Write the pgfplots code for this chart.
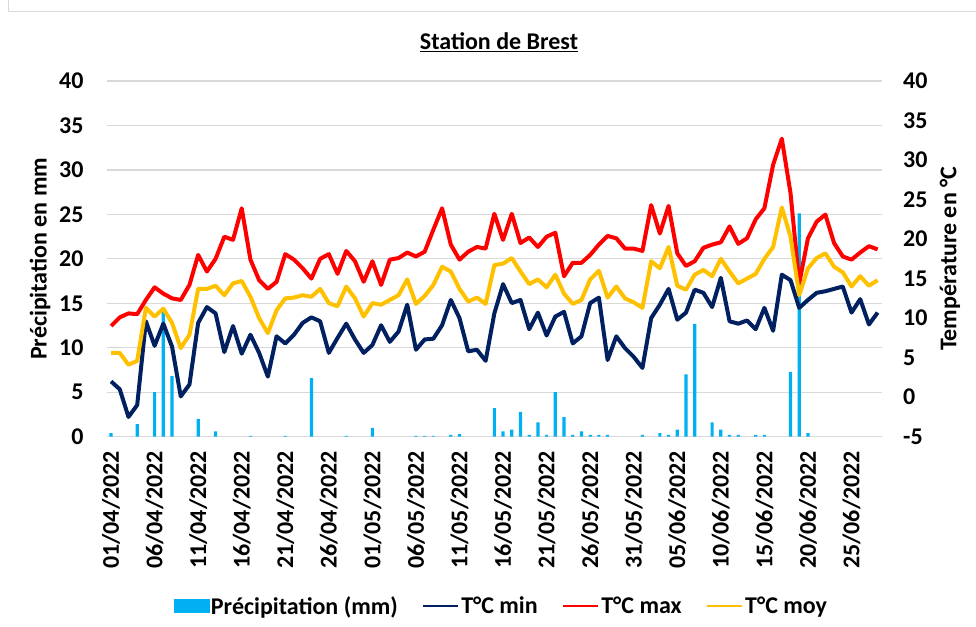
\documentclass[border=0pt]{standalone}
\usepackage{fontspec}
\setmainfont{Carlito}
\usepackage{pgfplots}
\pgfplotsset{compat=1.18}
\definecolor{precip}{HTML}{00B0F0}
\definecolor{tmin}{HTML}{002060}
\definecolor{tmax}{HTML}{FF0000}
\definecolor{tmoy}{HTML}{FFC000}
\definecolor{gridc}{HTML}{D9D9D9}
\newcommand{\F}{\fontsize{24}{28}\selectfont\bfseries}
\begin{document}
\begin{tikzpicture}
\path[use as bounding box] (0pt,0pt) rectangle (976pt,626pt);
\draw[gridc, line width=1.5pt] (8.5pt,626pt) -- (8.5pt,614.5pt) -- (976pt,614.5pt);
\node[font=\F, anchor=center] at (499pt,584pt) {\underline{Station de Brest}};
\begin{axis}[
  at={(106.7pt,189.3pt)}, anchor=south west,
  width=775.3pt, height=355.7pt, scale only axis,
  xmin=-0.5, xmax=88.5, ymin=0, ymax=40,
  ytick={0,5,10,15,20,25,30,35,40},
  xtick={0,5,10,15,20,25,30,35,40,45,50,55,60,65,70,75,80,85},
  xticklabels={01/04/2022,06/04/2022,11/04/2022,16/04/2022,21/04/2022,26/04/2022,01/05/2022,06/05/2022,11/05/2022,16/05/2022,21/05/2022,26/05/2022,31/05/2022,05/06/2022,10/06/2022,15/06/2022,20/06/2022,25/06/2022},
  /pgf/number format/assume math mode=true,
  ticklabel style={font=\F, inner sep=0pt},
  xticklabel style={rotate=90, anchor=east},
  xticklabel shift=14pt,
  yticklabel shift=23pt,
  major tick length=0pt,
  axis line style={draw=none},
  ymajorgrids, major grid style={gridc, line width=1.3pt},
  ylabel={Précipitation en mm},
  ylabel style={font=\F, at={(axis description cs:-0.086,0.5)}, anchor=center, rotate=0},
]
\addplot[ybar, bar width=3.2pt, fill=precip, draw=none] coordinates {
(0,0.4) (3,1.4) (5,5.0) (6,14.0) (7,6.8) (10,2.0) (12,0.6) (16,0.1) (20,0.1)
(23,6.6) (27,0.1) (30,1.0) (35,0.1) (36,0.1) (37,0.1) (39,0.2) (40,0.3)
(44,3.2) (45,0.6) (46,0.8) (47,2.8) (48,0.2) (49,1.6) (50,0.2) (51,5.0)
(52,2.2) (53,0.2) (54,0.6) (55,0.2) (56,0.2) (57,0.2) (61,0.2) (63,0.4)
(64,0.2) (65,0.8) (66,7.0) (67,12.7) (69,1.6) (70,0.8) (71,0.2) (72,0.2)
(74,0.2) (75,0.2) (78,7.3) (79,25.1) (80,0.4)
};
\end{axis}
\begin{axis}[
  at={(106.7pt,189.3pt)}, anchor=south west,
  width=775.3pt, height=355.7pt, scale only axis,
  xmin=-0.5, xmax=88.5, ymin=-5, ymax=40,
  ytick={-5,0,5,10,15,20,25,30,35,40},
  axis y line*=right, axis x line=none,
  /pgf/number format/assume math mode=true,
  ticklabel style={font=\F, inner sep=0pt},
  yticklabel shift=21pt,
  major tick length=0pt,
  axis line style={draw=none},
  ylabel={Température en °C},
  ylabel style={font=\F, at={(axis description cs:1.0877,0.5)}, anchor=center},
  legend style={at={(axis description cs:0.509,-0.476)}, anchor=center, draw=none, fill=none,
    legend columns=4, font=\F, inner sep=0pt,
    nodes={inner sep=2pt},
    /tikz/every even column/.append style={column sep=22pt}},
  legend cell align=left,
]
\addlegendimage{legend image code/.code={\fill[precip] (0pt,-6.5pt) rectangle (35pt,6.5pt);}}
\addlegendentry{Précipitation (mm)}
\addplot[tmin, line width=4pt, line join=round, legend image code/.code={\draw[tmin, line width=2.5pt] (0pt,0pt) -- (35pt,0pt);}] coordinates {
(0,2.0) (1,1.0) (2,-2.5) (3,-1.0) (4,9.6) (5,6.5) (6,9.3) (7,6.4) (8,0.1) (9,1.6)
(10,9.4) (11,11.4) (12,10.6) (13,5.7) (14,9.0) (15,5.5) (16,7.9) (17,5.6) (18,2.6) (19,7.7)
(20,6.8) (21,7.9) (22,9.4) (23,10.1) (24,9.6) (25,5.6) (26,7.5) (27,9.3) (28,7.3) (29,5.6)
(30,6.6) (31,9.1) (32,7.0) (33,8.3) (34,11.7) (35,6.0) (36,7.3) (37,7.4) (38,9.1) (39,12.3)
(40,10.0) (41,5.8) (42,6.0) (43,4.6) (44,10.6) (45,14.3) (46,11.9) (47,12.3) (48,8.6) (49,10.7)
(50,7.8) (51,10.2) (52,10.8) (53,6.8) (54,7.7) (55,11.9) (56,12.6) (57,4.7) (58,7.7) (59,6.2)
(60,5.1) (61,3.7) (62,10.0) (63,11.7) (64,13.7) (65,9.8) (66,10.7) (67,13.6) (68,13.2) (69,11.4)
(70,15.1) (71,9.6) (72,9.3) (73,9.7) (74,8.6) (75,11.3) (76,8.4) (77,15.5) (78,14.8) (79,11.3)
(80,12.3) (81,13.2) (82,13.4) (83,13.7) (84,14.0) (85,10.7) (86,12.4) (87,9.2) (88,10.7)
};
\addlegendentry{T°C min}
\addplot[tmax, line width=4pt, line join=round, legend image code/.code={\draw[tmax, line width=2.5pt] (0pt,0pt) -- (35pt,0pt);}] coordinates {
(0,9.0) (1,10.1) (2,10.6) (3,10.5) (4,12.3) (5,13.9) (6,13.1) (7,12.5) (8,12.3) (9,14.2)
(10,18.0) (11,15.9) (12,17.5) (13,20.3) (14,19.9) (15,23.9) (16,17.4) (17,14.8) (18,13.7) (19,14.6)
(20,18.1) (21,17.4) (22,16.3) (23,15.0) (24,17.5) (25,18.1) (26,15.6) (27,18.5) (28,17.2) (29,14.6)
(30,17.2) (31,14.2) (32,17.4) (33,17.6) (34,18.3) (35,17.8) (36,18.4) (37,21.2) (38,23.9) (39,19.3)
(40,17.4) (41,18.4) (42,19.0) (43,18.8) (44,23.2) (45,19.9) (46,23.2) (47,19.5) (48,20.2) (49,19.0)
(50,20.3) (51,20.8) (52,15.3) (53,17.0) (54,17.0) (55,18.0) (56,19.3) (57,20.4) (58,20.1) (59,18.8)
(60,18.8) (61,18.5) (62,24.3) (63,20.7) (64,24.2) (65,18.2) (66,16.6) (67,17.2) (68,18.9) (69,19.3)
(70,19.6) (71,21.6) (72,19.4) (73,20.1) (74,22.5) (75,23.9) (76,29.4) (77,32.7) (78,25.8) (79,14.4)
(80,20.1) (81,22.2) (82,23.1) (83,19.5) (84,17.8) (85,17.4) (86,18.3) (87,19.1) (88,18.7)
};
\addlegendentry{T°C max}
\addplot[tmoy, line width=4pt, line join=round, legend image code/.code={\draw[tmoy, line width=2.5pt] (0pt,0pt) -- (35pt,0pt);}] coordinates {
(0,5.6) (1,5.6) (2,4.1) (3,4.6) (4,11.3) (5,10.2) (6,11.2) (7,9.4) (8,6.2) (9,7.9)
(10,13.7) (11,13.7) (12,14.1) (13,12.9) (14,14.4) (15,14.7) (16,12.7) (17,10.0) (18,8.1) (19,11.0)
(20,12.5) (21,12.6) (22,12.9) (23,12.7) (24,13.7) (25,11.9) (26,11.5) (27,14.0) (28,12.5) (29,10.2)
(30,11.9) (31,11.7) (32,12.3) (33,12.9) (34,14.9) (35,11.8) (36,12.8) (37,14.2) (38,16.5) (39,15.9)
(40,13.7) (41,12.1) (42,12.6) (43,11.8) (44,16.7) (45,16.9) (46,17.6) (47,15.9) (48,14.3) (49,14.9)
(50,13.9) (51,15.5) (52,13.1) (53,11.8) (54,12.3) (55,14.9) (56,16.0) (57,12.6) (58,14.0) (59,12.5)
(60,12.0) (61,11.3) (62,17.2) (63,16.3) (64,19.0) (65,14.1) (66,13.6) (67,15.5) (68,16.1) (69,15.3)
(70,17.5) (71,15.9) (72,14.4) (73,15.0) (74,15.6) (75,17.5) (76,19.0) (77,24.0) (78,20.3) (79,12.9)
(80,16.3) (81,17.6) (82,18.2) (83,16.5) (84,15.8) (85,14.0) (86,15.3) (87,14.1) (88,14.8)
};
\addlegendentry{T°C moy}
\end{axis}
\end{tikzpicture}
\end{document}
